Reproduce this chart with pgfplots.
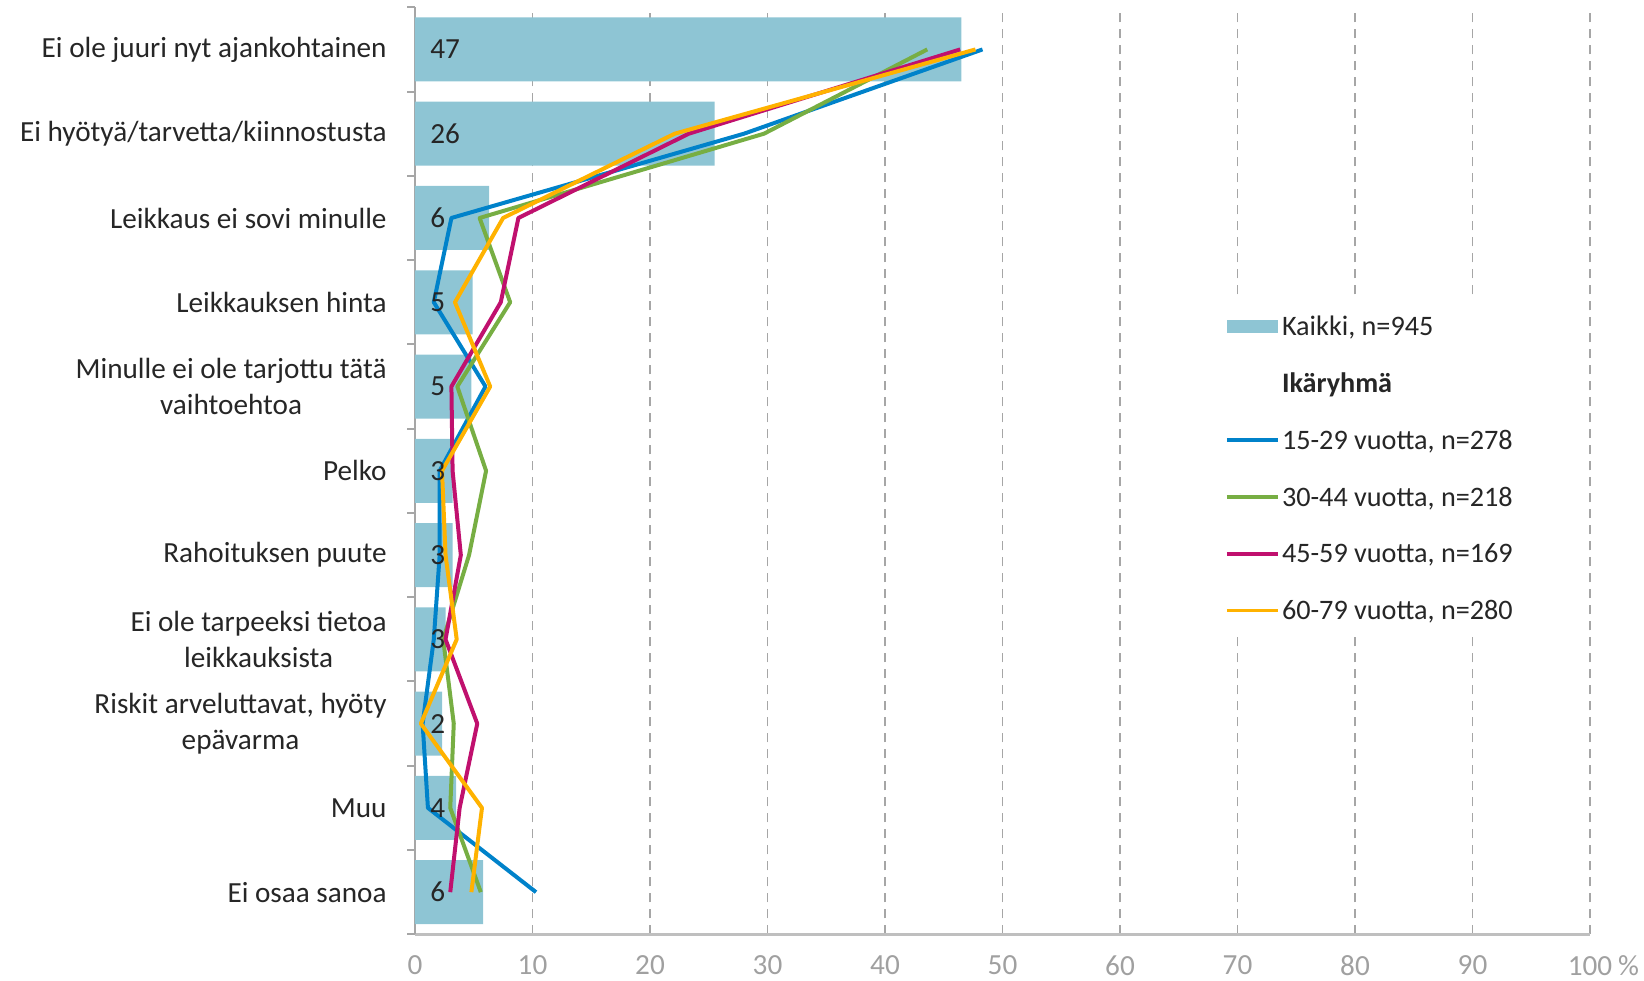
\documentclass[border=0pt]{standalone}
\usepackage{pgfplots}
\pgfplotsset{compat=1.18}
\usepackage{pgfplotstable}
\usepackage{fontspec}
\setmainfont{Carlito}
\definecolor{barcol}{RGB}{142,197,212}
\definecolor{c1}{RGB}{0,130,202}
\definecolor{c2}{RGB}{119,174,67}
\definecolor{c3}{RGB}{192,16,110}
\definecolor{c4}{RGB}{255,178,0}
\definecolor{gridc}{RGB}{166,166,166}
\definecolor{axc}{RGB}{191,191,191}
\definecolor{txt}{RGB}{38,38,38}
\definecolor{tickc}{RGB}{160,160,160}
\newcommand\fs{\fontsize{14.6}{17.8}\selectfont}
\newcommand\lfs{\fontsize{14.1}{17}\selectfont}
\newcommand\st{\rule[-3.5pt]{0pt}{14pt}}

\pgfplotstableread{
y all a b c d lab zero
10 46.5 48.3 43.6 46.4 47.7 47 0
9 25.5 28.0 29.7 23.3 22.1 26 0
8 6.3 3.1 5.5 8.8 7.5 6 0
7 4.9 1.6 8.1 7.3 3.4 5 0
6 4.8 6.0 3.6 3.1 6.4 5 0
5 3.2 2.1 6.05 3.2 2.3 3 0
4 3.2 2.1 4.6 3.9 2.6 3 0
3 2.6 1.6 2.4 2.6 3.55 3 0
2 2.3 0.65 3.3 5.3 0.5 2 0
1 3.5 1.1 3.0 3.8 5.7 4 0
0 5.8 10.3 5.6 3.0 4.8 6 0
}\data

\begin{document}
\begin{tikzpicture}
\begin{axis}[
  scale only axis, width=587.5pt, height=463.5pt,
  xmin=0, xmax=100, ymin=-0.5, ymax=10.5,
  axis x line*=bottom, axis y line*=left,
  x axis line style={draw=axc, line width=1.2pt},
  y axis line style={draw=gridc, line width=1pt},
  xtick={0,10,...,100},
  xticklabels={0,10,20,30,40,50,60,70,80,90,100\rlap{\hspace{3pt}\%}},
  xticklabel style={font=\fs, text=tickc, anchor=north, inner sep=0pt, yshift=-10.5pt},
  ytick={0,...,10},
  yticklabels={Ei osaa sanoa, Muu, {Riskit arveluttavat, hyöty\\epävarma}, {Ei ole tarpeeksi tietoa\\leikkauksista}, Rahoituksen puute, Pelko, {Minulle ei ole tarjottu tätä\\vaihtoehtoa}, Leikkauksen hinta, Leikkaus ei sovi minulle, Ei hyötyä/tarvetta/kiinnostusta, Ei ole juuri nyt ajankohtainen},
  yticklabel style={font=\fs, text=txt, align=center, anchor=east, inner sep=0pt, xshift=-14pt},
  minor ytick={-0.5,0.5,...,10.5},
  tick align=outside,
  major tick length=0pt, minor tick length=3.8pt,
  minor tick style={draw=gridc, line width=1pt},
  xmajorgrids,
  major x grid style={draw=gridc, line width=0.9pt, dash pattern=on 4.5pt off 3.5pt},
  legend style={at={(0.6788,0.684)}, anchor=north west, draw=none, fill=white, inner sep=6pt, font=\lfs, text=txt, row sep=14.4pt, nodes={inner sep=1pt}},
  legend cell align=left,
  legend image code/.code={\draw[#1, line width=1.8pt] (0pt,0pt) -- (25.7pt,0pt);},
]
\coordinate (sw) at (rel axis cs:0,0);
\addplot[xbar, bar width=32pt, fill=barcol, draw=none,
  legend image code/.code={\fill[barcol] (0pt,-3.4pt) rectangle (25.7pt,3.4pt);}]
  table[x=all, y=y]{\data};
\addlegendentry{\st Kaikki, n=945}
\addlegendimage{empty legend}
\addlegendentry{\st\textbf{Ikäryhmä}}
\addplot[forget plot, draw=none, mark=none, nodes near coords, point meta=explicit symbolic,
  nodes near coords style={anchor=west, inner sep=0pt, xshift=7.5pt, font=\fs, text=txt}]
  table[x=zero, y=y, meta=lab]{\data};
\addplot[c1, line width=2pt, line join=round] table[x=a, y=y]{\data};
\addlegendentry{\st 15-29 vuotta, n=278}
\addplot[c2, line width=2pt, line join=round] table[x=b, y=y]{\data};
\addlegendentry{\st 30-44 vuotta, n=218}
\addplot[c3, line width=2pt, line join=round] table[x=c, y=y]{\data};
\addlegendentry{\st 45-59 vuotta, n=169}
\addplot[c4, line width=2pt, line join=round] table[x=d, y=y]{\data};
\addlegendentry{\st 60-79 vuotta, n=280}
\end{axis}
\pgfresetboundingbox
\path ([shift={(-207.5pt,-23.3pt)}]sw) rectangle ([shift={(614.5pt,467.15pt)}]sw);
\end{tikzpicture}
\end{document}
